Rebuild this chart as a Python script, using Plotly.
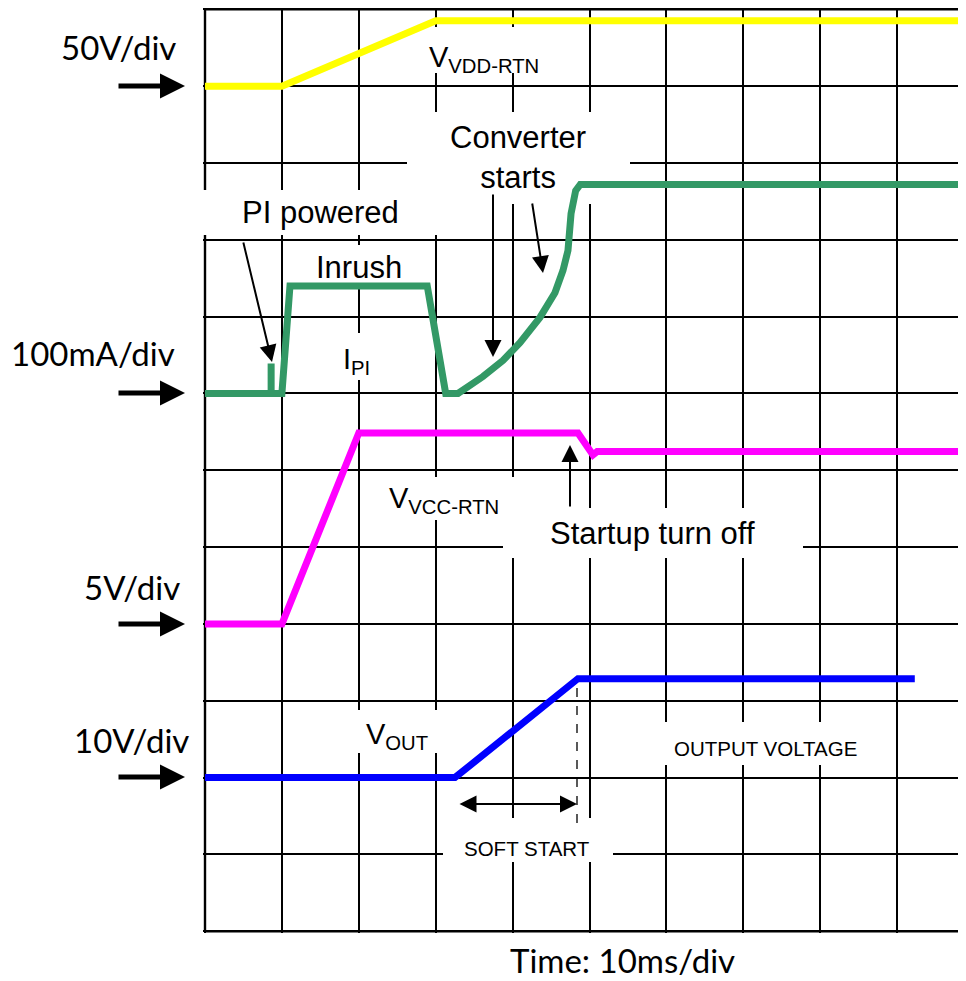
import plotly.graph_objects as go

# ---------------- data ----------------
# time axis: 10 ms / div
t_vdd = [0, 10, 30, 100]
vdd_v = [0, 0, 42.5, 42.5]            # V, 50 V/div

t_ipi = [0, 8.6, 8.6, 8.6, 10.0, 11.05, 28.9, 31.3, 32.9, 36.15, 38.75, 40.96,
         43.56, 45.51, 46.55, 47.2, 47.6, 48.2, 48.8, 100]
ipi_ma = [0, 0, 39, 0, 0, 140, 140, 0, 0, 22, 43, 66, 99, 131, 160, 186, 234,
          264, 272, 272]              # mA, 100 mA/div

t_vcc = [0, 10, 20, 48.5, 50.45, 51.0, 98.6]
vcc_v = [0, 0, 12.43, 12.43, 11.0, 11.22, 11.22]   # V, 5 V/div

t_vout = [0, 32.5, 48.5, 92.3]
vout_v = [0, 0, 12.88, 12.88]         # V, 10 V/div

channels = [
    # name, t, values, units per div, baseline (div), colour
    ("VDD-RTN", t_vdd, vdd_v, 50.0, 11, "#FFFF00"),
    ("IPI", t_ipi, ipi_ma, 100.0, 7, "#339966"),
    ("VCC-RTN", t_vcc, vcc_v, 5.0, 4, "#FF00FF"),
    ("VOUT", t_vout, vout_v, 10.0, 2, "#0000FF"),
]

# ---------------- layout helpers (screen pixels; page has an 8px body margin) ----------------
W, H = 966, 981
OFF = 8
PX_PER_MS = 7.69
PX_PER_DIV = 76.83
SCR_LEFT, SCR_TOP = 203, 8          # plot area on screen
ML, MT = SCR_LEFT - OFF, SCR_TOP - OFF
PLOT_W = W - ML
SCR_BOTTOM = 933
MB = H - (SCR_BOTTOM - OFF)
PLOT_H = SCR_BOTTOM - SCR_TOP

X0 = (SCR_LEFT - 205) / PX_PER_MS
X1 = X0 + PLOT_W / PX_PER_MS
Y1 = 12 + (9.3 - SCR_TOP) / PX_PER_DIV
Y0 = Y1 - PLOT_H / PX_PER_DIV


def X(px):
    return (px - 205) / PX_PER_MS


def Y(py):
    return 12 - (py - 9.3) / PX_PER_DIV


def PX(px):
    return (px - SCR_LEFT) / PLOT_W


def PY(py):
    return (SCR_BOTTOM - py) / PLOT_H


fig = go.Figure()

for name, t, vals, per_div, base, col in channels:
    fig.add_trace(go.Scatter(
        x=t, y=[base + v / per_div for v in vals], mode="lines", name=name,
        line=dict(color=col, width=7), hoverinfo="skip", showlegend=False))

# graticule border (left, top, bottom) - below the label backgrounds
for x0, y0, x1, y1 in [(0, 0, 0, 12), (0, 12, X1, 12), (0, 0, X1, 0)]:
    fig.add_shape(type="line", xref="x", yref="y", x0=x0, y0=y0, x1=x1, y1=y1,
                  line=dict(color="black", width=2.4), layer="between")

# white label backgrounds that break the grid (above grid, below traces)
boxes = [
    (425, 27, 560, 73),     # V VDD-RTN
    (407, 112, 630, 204),   # Converter starts
    (198, 190, 440, 235),   # PI powered
    (300, 245, 425, 289),   # Inrush
    (335, 333, 385, 380),   # I PI
    (361, 477, 560, 520),   # V VCC-RTN
    (503, 508, 803, 558),   # Startup turn off
    (292, 710, 445, 753),   # V OUT
    (595, 722, 894, 765),   # OUTPUT VOLTAGE
    (443, 818, 613, 862),   # SOFT START
]
for x0, y0, x1, y1 in boxes:
    fig.add_shape(type="rect", xref="x", yref="y", x0=X(x0), x1=X(x1),
                  y0=Y(y1), y1=Y(y0), fillcolor="white", line=dict(width=0),
                  layer="between")

# dashed marker at end of soft start
fig.add_shape(type="line", xref="x", yref="y", x0=X(577), x1=X(577),
              y0=Y(823), y1=Y(681), line=dict(color="black", width=1.3, dash="dash"),
              layer="above")

ARIAL = "Liberation Sans, Arial, sans-serif"
CALI = "Lato, Carlito, Calibri, sans-serif"

anns = []


def label(text, px, py, size, font=ARIAL, xanchor="center"):
    anns.append(dict(text=text, x=X(px), y=Y(py), xref="x", yref="y",
                     showarrow=False, xanchor=xanchor, yanchor="middle",
                     font=dict(family=font, size=size, color="black")))


def outer_label(text, px, py, size, font=CALI):
    anns.append(dict(text=text, x=PX(px), y=PY(py), xref="paper", yref="paper",
                     showarrow=False, xanchor="center", yanchor="middle",
                     font=dict(family=font, size=size, color="black")))


def arrow(tx, ty, hx, hy, width=2, size=1.7, both=False):
    d = dict(text="", x=X(hx), y=Y(hy), ax=X(tx), ay=Y(ty), xref="x", yref="y",
             axref="x", ayref="y", showarrow=True, arrowhead=2, arrowsize=size,
             arrowwidth=width, arrowcolor="black", standoff=0)
    if both:
        d.update(arrowside="end+start", startarrowhead=2, startarrowsize=size,
                 startstandoff=0)
    anns.append(d)


# scale labels on the left and time base
outer_label("50V/div", 118, 47, 33)
outer_label("100mA/div", 93, 353, 33)
outer_label("5V/div", 132, 587, 33)
outer_label("10V/div", 131, 740, 33)
outer_label("Time: 10ms/div", 622, 960, 33)

for yy in (86, 393, 624, 777):
    anns.append(dict(text="", x=PX(185), y=PY(yy), xref="paper", yref="paper",
                     ax=-(185 - 117), ay=0, showarrow=True, arrowhead=2,
                     arrowsize=1.0, arrowwidth=5, arrowcolor="black", standoff=0))

# trace / event labels
label("Converter<br>starts", 518, 157, 31)
label("PI powered", 320, 212, 31)
label("Inrush", 359, 267, 31)
label("Startup turn off", 652, 533, 31)
label("V<sub>VDD-RTN</sub>", 427, 59, 29, xanchor="left")
label("I<sub>PI</sub>", 341, 361, 29, xanchor="left")
label("V<sub>VCC-RTN</sub>", 387, 500, 29, xanchor="left")
label("V<sub>OUT</sub>", 364, 736, 29, xanchor="left")
label("OUTPUT VOLTAGE", 765, 748, 20.5)
label("SOFT START", 527, 848, 20.5)

# pointer arrows
arrow(243, 241, 272, 362)
arrow(493, 193, 493, 357)
arrow(532, 202, 543, 273)
arrow(570, 508, 570, 445)
arrow(458, 804, 577, 804, both=True)

fig.update_layout(
    width=W, height=H, margin=dict(l=ML, r=0, t=MT, b=MB, pad=0),
    paper_bgcolor="white", plot_bgcolor="white", annotations=anns,
    showlegend=False,
)
fig.update_xaxes(range=[X0, X1], tick0=0, dtick=10, showgrid=True,
                 gridcolor="black", gridwidth=2.2, zeroline=False,
                 showticklabels=False, ticks="", showline=False, fixedrange=True)
fig.update_yaxes(range=[Y0, Y1], tick0=0, dtick=1, showgrid=True,
                 gridcolor="black", gridwidth=2.2, zeroline=False,
                 showticklabels=False, ticks="", showline=False, fixedrange=True)

fig.write_html("out.html")
